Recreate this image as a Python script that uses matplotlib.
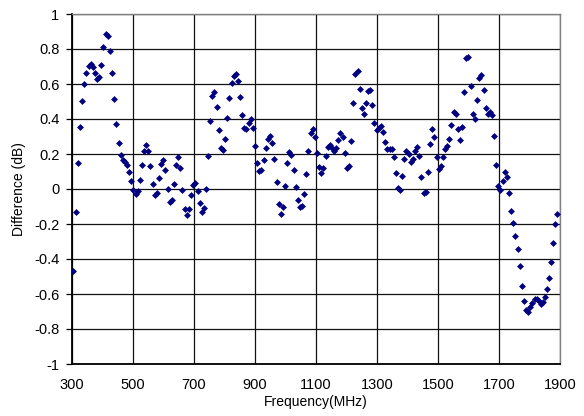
#!/usr/bin/env python
# -*- coding: utf-8 -*-
import matplotlib
matplotlib.use('Agg')
from matplotlib import pyplot as plt

# frequency (MHz) and difference (dB)
freq = [304, 312, 320, 326, 333, 340, 347, 355, 361, 368, 375, 383, 390, 396,
        403, 410, 417, 425, 432, 439, 445, 453, 460, 466, 473, 480, 487, 493,
        501, 509, 516, 523, 530, 537, 544, 550, 557, 564, 572, 578, 585, 592,
        599, 606, 614, 620, 627, 634, 641, 649, 655, 662, 669, 676, 684, 690,
        698, 704, 712, 719, 726, 732, 738, 747, 753, 760, 767, 774, 782, 788,
        795, 803, 809, 816, 824, 830, 837, 844, 851, 858, 865, 871, 879, 886,
        893, 900, 908, 914, 921, 928, 935, 943, 949, 957, 963, 971, 978, 984,
        992, 998, 1006, 1012, 1019, 1027, 1033, 1041, 1048, 1054, 1062, 1068,
        1075, 1083, 1089, 1097, 1103, 1110, 1117, 1124, 1132, 1138, 1145, 1152,
        1159, 1166, 1173, 1180, 1187, 1194, 1201, 1208, 1216, 1222, 1229, 1237,
        1244, 1251, 1257, 1264, 1271, 1278, 1285, 1291, 1299, 1306, 1313, 1320,
        1327, 1334, 1342, 1348, 1355, 1362, 1369, 1375, 1383, 1390, 1396, 1404,
        1411, 1417, 1425, 1432, 1439, 1445, 1453, 1460, 1467, 1474, 1481, 1488,
        1496, 1502, 1509, 1516, 1523, 1530, 1537, 1544, 1551, 1558, 1566, 1572,
        1579, 1586, 1593, 1599, 1607, 1614, 1621, 1628, 1634, 1642, 1650, 1656,
        1663, 1670, 1677, 1684, 1691, 1698, 1704, 1712, 1719, 1726, 1733, 1740,
        1747, 1753, 1761, 1768, 1775, 1782, 1789, 1795, 1802, 1809, 1817, 1823,
        1830, 1837, 1843, 1850, 1857, 1864, 1870, 1877, 1884, 1890]
diff = [-0.467, -0.131, 0.149, 0.356, 0.501, 0.600, 0.665, 0.705, 0.714, 0.697,
        0.663, 0.630, 0.640, 0.710, 0.813, 0.886, 0.876, 0.790, 0.661, 0.512,
        0.373, 0.263, 0.196, 0.167, 0.156, 0.139, 0.099, 0.044, -0.004, -0.027,
        -0.013, 0.050, 0.139, 0.219, 0.253, 0.219, 0.130, 0.027, -0.034, -0.021,
        0.061, 0.145, 0.167, 0.107, 0.000, -0.074, -0.065, 0.027, 0.135, 0.183,
        0.122, -0.004, -0.112, -0.149, -0.112, -0.034, 0.025, 0.034, -0.013,
        -0.082, -0.130, -0.110, 0.000, 0.186, 0.387, 0.530, 0.554, 0.467, 0.337,
        0.236, 0.221, 0.287, 0.406, 0.520, 0.604, 0.647, 0.659, 0.619, 0.527,
        0.421, 0.349, 0.343, 0.379, 0.398, 0.349, 0.247, 0.149, 0.101, 0.109,
        0.164, 0.233, 0.287, 0.303, 0.265, 0.171, 0.040, -0.086, -0.145, -0.105,
        0.017, 0.147, 0.211, 0.193, 0.110, 0.013, -0.061, -0.105, -0.099, -0.030,
        0.086, 0.217, 0.318, 0.345, 0.299, 0.204, 0.124, 0.091, 0.120, 0.187,
        0.240, 0.250, 0.233, 0.216, 0.233, 0.282, 0.322, 0.295, 0.204, 0.122,
        0.131, 0.274, 0.490, 0.657, 0.674, 0.570, 0.461, 0.429, 0.490, 0.562,
        0.566, 0.478, 0.377, 0.337, 0.349, 0.360, 0.327, 0.269, 0.229, 0.229,
        0.229, 0.183, 0.090, 0.004, -0.004, 0.072, 0.173, 0.219, 0.198, 0.156,
        0.170, 0.215, 0.242, 0.187, 0.069, -0.023, -0.017, 0.099, 0.257, 0.343,
        0.299, 0.183, 0.114, 0.131, 0.183, 0.229, 0.247, 0.284, 0.364, 0.442,
        0.430, 0.341, 0.282, 0.352, 0.554, 0.749, 0.752, 0.589, 0.427, 0.402,
        0.507, 0.636, 0.650, 0.564, 0.461, 0.429, 0.438, 0.421, 0.301, 0.139,
        0.017, -0.008, 0.048, 0.097, 0.067, -0.023, -0.126, -0.196, -0.269,
        -0.341, -0.438, -0.552, -0.642, -0.691, -0.703, -0.676, -0.650, -0.631,
        -0.629, -0.642, -0.655, -0.646, -0.617, -0.571, -0.507, -0.415, -0.310,
        -0.202, -0.141]

xticks = [300, 500, 700, 900, 1100, 1300, 1500, 1700, 1900]
yticks = [-1, -0.8, -0.6, -0.4, -0.2, 0, 0.2, 0.4, 0.6, 0.8, 1]
ylabels = ['-1', '-0.8', '-0.6', '-0.4', '-0.2', '0', '0.2', '0.4', '0.6', '0.8', '1']


def main():
    plt.rcParams['font.family'] = ['Liberation Sans', 'DejaVu Sans']
    fig = plt.figure(figsize=(5.84, 4.16), dpi=100)
    ax = fig.add_axes([72 / 584, 1 - 364 / 416, 488 / 584, 350 / 416])

    ax.plot(freq, diff, linestyle='none', marker='D', markersize=3.0,
            color='#000080', markeredgewidth=0.5, zorder=3)

    ax.set_xlim(300, 1900)
    ax.set_ylim(-1, 1)
    ax.set_xticks(xticks)
    ax.set_xticklabels([str(t) for t in xticks])
    ax.set_yticks(yticks)
    ax.set_yticklabels(ylabels)
    ax.grid(True, color='#111111', linewidth=0.9)
    ax.set_axisbelow(True)

    for side in ['top', 'right']:
        ax.spines[side].set_color('#808080')
        ax.spines[side].set_linewidth(1.0)
    for side in ['left', 'bottom']:
        ax.spines[side].set_color('black')
        ax.spines[side].set_linewidth(1.3)

    ax.tick_params(axis='x', length=0, pad=10, labelsize=10.5)
    ax.tick_params(axis='y', length=4, width=0.9, pad=5, labelsize=10.5)

    ax.set_xlabel('Frequency(MHz)', fontsize=10, labelpad=2)
    ax.set_ylabel('Difference (dB)', fontsize=10, labelpad=6)

    fig.savefig('out.png', dpi=100)


if __name__ == '__main__':
    main()
